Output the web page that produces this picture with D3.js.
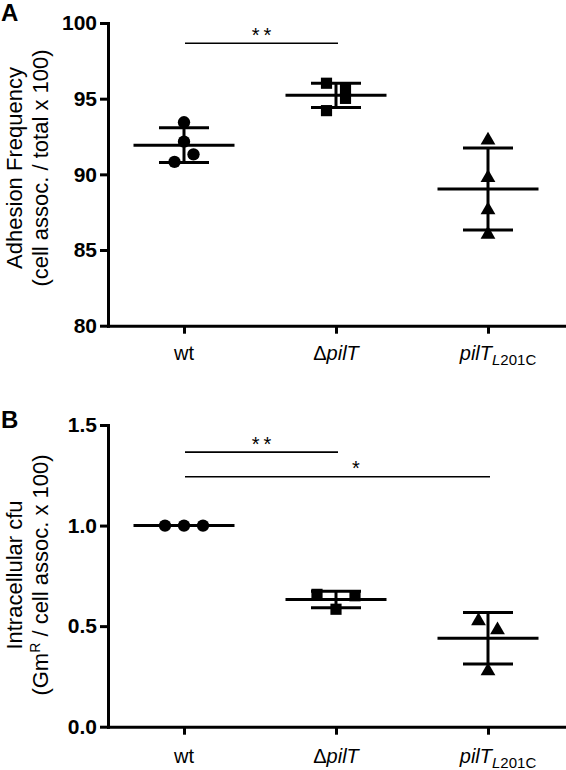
<!DOCTYPE html>
<html>
<head>
<meta charset="utf-8">
<script src="https://cdn.jsdelivr.net/npm/d3@7"></script>
<style>
  html, body { margin: 0; padding: 0; background: #fff; }
  svg { display: block; }
  text { font-family: "Liberation Sans", Arial, Helvetica, sans-serif; fill: #000; }
</style>
</head>
<body>
<svg id="chart" width="566" height="770"></svg>
<script>
// ---------------- DATA ----------------
const categories = ["wt", "ΔpilT", "pilT_L201C"];

// Panel A: adhesion frequency (cell assoc. / total x 100)
const adhesionWt    = [93.44, 92.16, 91.32, 90.82];
const adhesionDpilT = [96.02, 95.62, 95.02, 94.21];
const adhesionL201C = [92.32, 89.84, 87.71, 86.10];
const adhesionMean  = [91.93, 95.22, 89.03];
const adhesionSD    = [1.15, 0.80, 2.71];
const adhesionSlots = [[0, 0, 1, -1], [-1, 1, 1, -1], [0, 0, 0, 0]];
const adhesionTicks = [80, 85, 90, 95, 100];
const adhesionSig   = [{ from: "wt", to: "ΔpilT", label: "**", value: 98.66 }];

// Panel B: intracellular cfu (GmR / cell assoc. x 100)
const intraWt    = [1.0, 1.0, 1.0];
const intraDpilT = [0.658, 0.651, 0.584];
const intraL201C = [0.531, 0.486, 0.282];
const intraMean  = [1.0, 0.632, 0.44];
const intraSD    = [0, 0.041, 0.128];
const intraSlots = [[-2, 0, 2], [-2, 2, 0], [-1, 1, 0]];
const intraTicks = [0, 0.5, 1.0, 1.5];
const intraSig   = [
  { from: "wt", to: "ΔpilT", label: "**", value: 1.365 },
  { from: "wt", to: "pilT_L201C", label: "*", value: 1.243 }
];

// ---------------- DRAWING ----------------
const svg = d3.select("#chart");
const shapes = [d3.symbolCircle, d3.symbolSquare, d3.symbolTriangle];
const shapeSizes = [120, 125, 95];
const slotW = 9.5;
const labelFracs = { "**": 0.5, "*": 0.56 };

const x = d3.scalePoint().domain(categories).range([108, 564]).padding(0.5);

function drawPanel(opts) {
  const g = svg.append("g");
  const y = d3.scaleLinear().domain(opts.domain).range(opts.range);

  // points
  opts.series.forEach((vals, i) => {
    const cx = x(categories[i]);
    g.selectAll(null).data(vals).enter().append("path")
      .attr("d", d3.symbol().type(shapes[i]).size(shapeSizes[i]))
      .attr("transform", (d, j) => `translate(${cx + opts.slots[i][j] * slotW},${y(d) + (i === 2 ? 1 : 0)})`)
      .attr("fill", "#000");
  });

  // mean and SD
  opts.means.forEach((m, i) => {
    const cx = x(categories[i]);
    const sd = opts.sds[i];
    const line = (x1, y1, x2, y2) => g.append("line")
      .attr("x1", x1).attr("y1", y1).attr("x2", x2).attr("y2", y2)
      .attr("stroke", "#000").attr("stroke-width", 3);
    line(cx, y(m + sd), cx, y(m - sd));
    line(cx - 25, y(m + sd), cx + 25, y(m + sd));
    line(cx - 25, y(m - sd), cx + 25, y(m - sd));
    line(cx - 50.5, y(m), cx + 50.5, y(m));
  });

  // significance bars
  opts.sig.forEach(s => {
    const x1 = x(s.from) + 1, x2 = x(s.to) + 2;
    const yy = y(s.value);
    g.append("line").attr("x1", x1).attr("x2", x2).attr("y1", yy).attr("y2", yy)
      .attr("stroke", "#000").attr("stroke-width", 1.6);
    g.append("text")
      .attr("x", x1 + (x2 - x1) * labelFracs[s.label] + 2)
      .attr("y", yy - 1.5)
      .attr("text-anchor", "middle")
      .attr("font-size", 20)
      .attr("letter-spacing", 4)
      .text(s.label);
  });

  // y axis
  const yAxis = g.append("g").attr("transform", "translate(108,0)")
    .call(d3.axisLeft(y).tickValues(opts.ticks).tickSize(8).tickPadding(3).tickSizeOuter(0)
      .tickFormat(opts.fmt));
  yAxis.selectAll("path, line").attr("stroke", "#000").attr("stroke-width", 3);
  yAxis.select(".domain").attr("stroke-linecap", "square");
  yAxis.selectAll("text").attr("font-size", 21).attr("font-weight", "bold")
    .attr("font-family", "'Liberation Sans', Arial, sans-serif").attr("fill", "#000");

  // x axis
  const base = opts.range[0];
  const xAxis = g.append("g").attr("transform", `translate(0,${base})`)
    .call(d3.axisBottom(x).tickSize(8).tickSizeOuter(0).tickFormat(""));
  xAxis.selectAll("path, line").attr("stroke", "#000").attr("stroke-width", 3);
  xAxis.select(".domain").attr("stroke-linecap", "square");

  // category labels
  categories.forEach(c => {
    const t = g.append("text").attr("y", base + opts.labelOffset)
      .attr("font-size", 20).attr("text-anchor", "middle");
    if (c === "wt") {
      t.attr("x", x(c)).text("wt");
    } else if (c === "ΔpilT") {
      t.attr("x", x(c));
      t.append("tspan").text("Δ");
      t.append("tspan").attr("font-style", "italic").text("pilT");
    } else {
      t.attr("x", x(c) + 10);
      t.append("tspan").attr("font-style", "italic").text("pilT");
      t.append("tspan").attr("font-style", "italic").attr("font-size", 15).attr("dy", 5).text("L");
      t.append("tspan").attr("font-size", 15).text("201C");
    }
  });

  // y title
  const tt = g.append("g").attr("transform", `translate(0,${opts.titleCenter})`);
  const l1 = tt.append("text").attr("transform", "translate(22,0) rotate(-90)")
    .attr("text-anchor", "middle").attr("font-size", 22);
  const l2 = tt.append("text").attr("transform", "translate(47.5,0) rotate(-90)")
    .attr("text-anchor", "middle").attr("font-size", 22);
  opts.title(l1, l2);

  // panel letter
  g.append("text").attr("x", 1).attr("y", opts.letterY)
    .attr("font-size", 24).attr("font-weight", "bold").text(opts.letter);
}

drawPanel({
  domain: [80, 100], range: [325.7, 23],
  series: [adhesionWt, adhesionDpilT, adhesionL201C],
  slots: adhesionSlots, means: adhesionMean, sds: adhesionSD,
  ticks: adhesionTicks, fmt: d3.format("d"), sig: adhesionSig,
  labelOffset: 34, titleCenter: 168, letter: "A", letterY: 21,
  title: (l1, l2) => {
    l1.text("Adhesion Frequency");
    l2.text("(cell assoc. / total x 100)");
  }
});

drawPanel({
  domain: [0, 1.5], range: [726.7, 425],
  series: [intraWt, intraDpilT, intraL201C],
  slots: intraSlots, means: intraMean, sds: intraSD,
  ticks: intraTicks, fmt: d3.format(".1f"), sig: intraSig,
  labelOffset: 36, titleCenter: 575, letter: "B", letterY: 428,
  title: (l1, l2) => {
    l1.text("Intracellular cfu");
    l2.append("tspan").text("(Gm");
    l2.append("tspan").attr("font-size", 14).attr("dy", -8).text("R");
    l2.append("tspan").attr("dy", 8).text(" / cell assoc. x 100)");
  }
});
</script>
</body>
</html>
